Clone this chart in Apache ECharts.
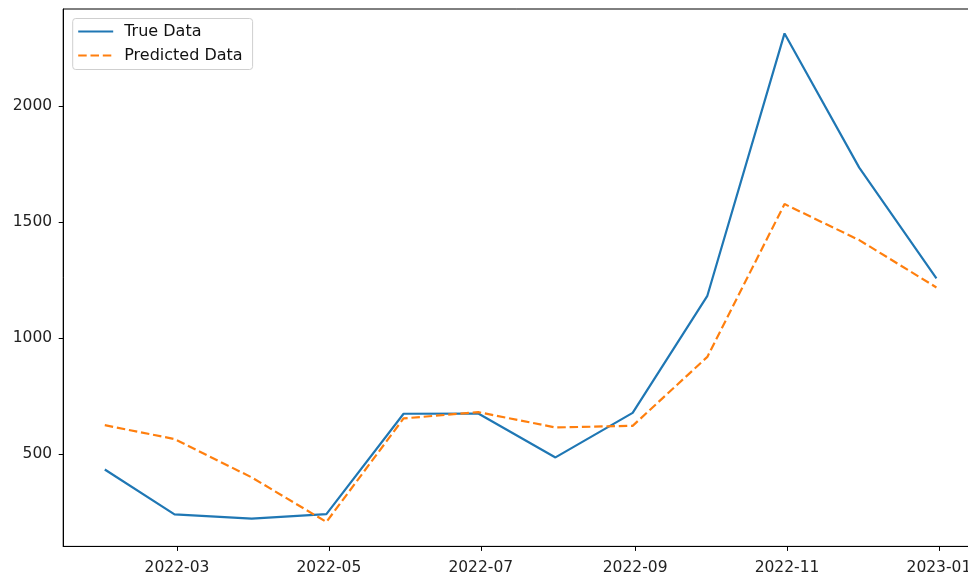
<!DOCTYPE html>
<html>
<head>
<meta charset="utf-8">
<script src="https://cdn.jsdelivr.net/npm/echarts@6/dist/echarts.min.js"></script>
<style>
  html, body { margin: 0; padding: 0; background: #fff; }
  #chart { width: 968px; height: 579px; }
</style>
</head>
<body>
<div id="chart"></div>
<script>
// Monthly observations (month-end dates)
const dates = ['2022-01-31', '2022-02-28', '2022-03-31', '2022-04-30', '2022-05-31', '2022-06-30',
               '2022-07-31', '2022-08-31', '2022-09-30', '2022-10-31', '2022-11-30', '2022-12-31'];
const trueData = [435, 242, 223, 243, 675, 676, 487, 679, 1183, 2313, 1735, 1258];
const predData = [626, 566, 401, 209, 655, 682, 616, 623, 920, 1578, 1423, 1219];

// Axis ticks
const xTickLabels = ['2022-03', '2022-05', '2022-07', '2022-09', '2022-11', '2023-01'];
const yTickValues = [500, 1000, 1500, 2000];

const FONT = 'DejaVu Sans';
const toTime = s => new Date(s + 'T00:00:00').getTime();
const toMonthTime = s => new Date(s + '-01T00:00:00').getTime();

const times = dates.map(toTime);
const xSpan = times[times.length - 1] - times[0];
const xMin = times[0] - 0.05 * xSpan;
const xMax = times[times.length - 1] + 0.05 * xSpan;

const allVals = trueData.concat(predData);
const lo = Math.min.apply(null, allVals);
const hi = Math.max.apply(null, allVals);
const yMin = lo - 0.05 * (hi - lo);
const yMax = hi + 0.05 * (hi - lo);

// date axis is drawn on a numeric (timestamp) scale with month-start ticks
const xTickTimes = xTickLabels.map(toMonthTime);
const pad2 = n => (n < 10 ? '0' : '') + n;

const chart = echarts.init(document.getElementById('chart'), null, { renderer: 'canvas' });
chart.setOption({
  animation: false,
  backgroundColor: '#fff',
  textStyle: { fontFamily: FONT },
  grid: {
    left: 63.2, top: 9, width: 914.8, height: 537.4,
    outerBoundsMode: 'none',
    show: true, borderColor: '#000', borderWidth: 1, backgroundColor: '#fff'
  },
  legend: {
    orient: 'vertical',
    left: 72.7, top: 18.5,
    padding: [4, 10, 5, 4.5],
    itemWidth: 35, itemHeight: 14, itemGap: 6,
    backgroundColor: '#fff',
    borderColor: '#cfcfcf', borderWidth: 1, borderRadius: 3,
    itemStyle: { color: 'transparent', borderWidth: 0 },
    textStyle: { fontFamily: FONT, fontSize: 16, color: '#111', lineHeight: 18, padding: [0, 0, 0, 6] },
    data: ['True Data', 'Predicted Data']
  },
  xAxis: {
    type: 'value',
    min: xMin, max: xMax,
    splitLine: { show: false },
    axisLine: { show: true, onZero: false, lineStyle: { color: '#000', width: 1 } },
    axisTick: { show: true, length: 4.5, lineStyle: { color: '#000', width: 1 }, customValues: xTickTimes },
    axisLabel: {
      customValues: xTickTimes,
      fontFamily: FONT, fontSize: 15.5, color: '#222', margin: 14,
      formatter: v => { const d = new Date(v); return d.getFullYear() + '-' + pad2(d.getMonth() + 1); }
    }
  },
  yAxis: {
    type: 'value',
    min: yMin, max: yMax,
    splitLine: { show: false },
    axisLine: { show: true, onZero: false, lineStyle: { color: '#000', width: 1 } },
    axisTick: { show: true, length: 4.5, lineStyle: { color: '#000', width: 1 }, customValues: yTickValues },
    axisLabel: {
      customValues: yTickValues,
      fontFamily: FONT, fontSize: 15.5, color: '#222', margin: 11,
      formatter: v => String(v)
    }
  },
  series: [
    {
      name: 'True Data',
      type: 'line',
      data: times.map((t, i) => [t, trueData[i]]),
      showSymbol: false, symbol: 'none',
      color: '#1f77b4',
      lineStyle: { color: '#1f77b4', width: 2.2 }
    },
    {
      name: 'Predicted Data',
      type: 'line',
      data: times.map((t, i) => [t, predData[i]]),
      showSymbol: false, symbol: 'none',
      color: '#ff7f0e',
      lineStyle: { color: '#ff7f0e', width: 2.2, type: [8.5, 3.8] }
    }
  ]
});
</script>
</body>
</html>
